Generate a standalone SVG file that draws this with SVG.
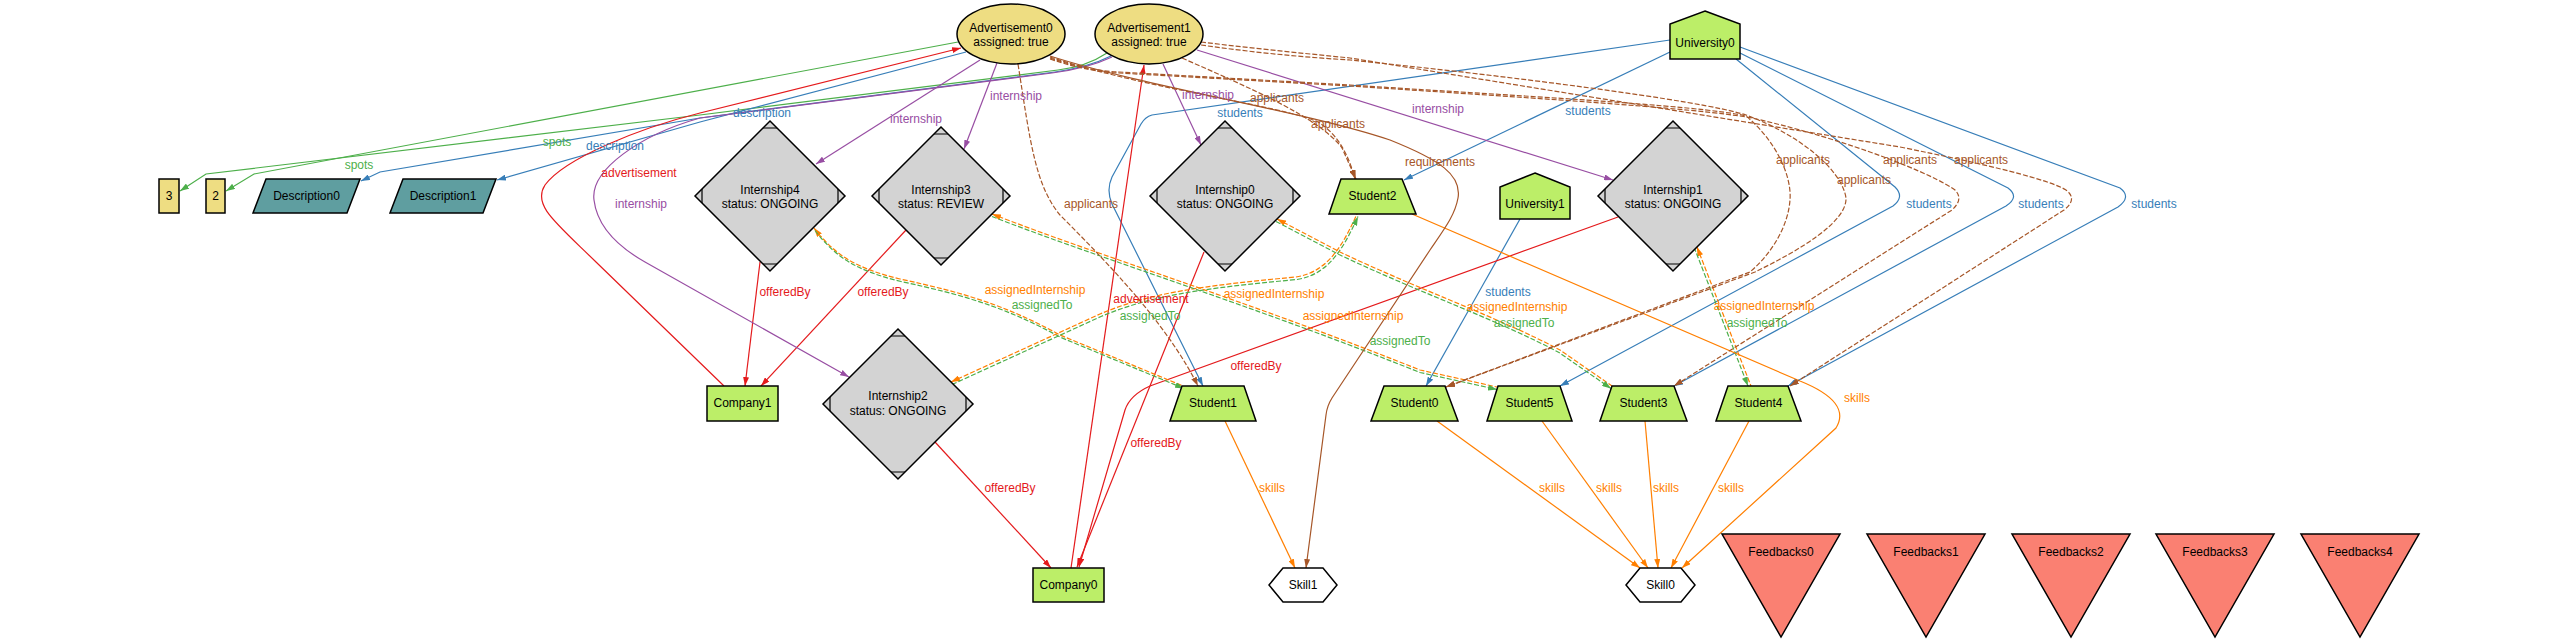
<svg xmlns="http://www.w3.org/2000/svg" width="2550" height="641" viewBox="0 0 2550 641">
<style>
.n{stroke:#000;stroke-width:1.5}
.yel{fill:#eedd82}.grn{fill:#bcee68}.gry{fill:#d3d3d3}.tea{fill:#5f9ea0}.wht{fill:#fff}.sal{fill:#fa8072}
.t{font-family:"Liberation Sans",Arial,sans-serif;font-size:12px;text-anchor:middle;fill:#000}
.l{font-family:"Liberation Sans",Arial,sans-serif;font-size:12px;text-anchor:middle}
.e{fill:none;stroke-width:1.2}
.d{stroke-dasharray:5,2}
.cg{stroke:#4daf4a}.cb{stroke:#377eb8}.cr{stroke:#e41a1c}.cp{stroke:#984ea3}.co{stroke:#ff7f00}.cn{stroke:#a65628}
.fg{fill:#4daf4a}.fb{fill:#377eb8}.fr{fill:#e41a1c}.fp{fill:#984ea3}.fo{fill:#ff7f00}.fn{fill:#a65628}
.md{fill:none;stroke:#000;stroke-width:1.2}
</style>
<defs>
<marker id="ag" viewBox="0 0 9 6" refX="9" refY="3" markerWidth="9" markerHeight="6" markerUnits="userSpaceOnUse" orient="auto-start-reverse"><path d="M0,0L9,3L0,6z" fill="#4daf4a"/></marker>
<marker id="ab" viewBox="0 0 9 6" refX="9" refY="3" markerWidth="9" markerHeight="6" markerUnits="userSpaceOnUse" orient="auto-start-reverse"><path d="M0,0L9,3L0,6z" fill="#377eb8"/></marker>
<marker id="ar" viewBox="0 0 9 6" refX="9" refY="3" markerWidth="9" markerHeight="6" markerUnits="userSpaceOnUse" orient="auto-start-reverse"><path d="M0,0L9,3L0,6z" fill="#e41a1c"/></marker>
<marker id="ap" viewBox="0 0 9 6" refX="9" refY="3" markerWidth="9" markerHeight="6" markerUnits="userSpaceOnUse" orient="auto-start-reverse"><path d="M0,0L9,3L0,6z" fill="#984ea3"/></marker>
<marker id="ao" viewBox="0 0 9 6" refX="9" refY="3" markerWidth="9" markerHeight="6" markerUnits="userSpaceOnUse" orient="auto-start-reverse"><path d="M0,0L9,3L0,6z" fill="#ff7f00"/></marker>
<marker id="an" viewBox="0 0 9 6" refX="9" refY="3" markerWidth="9" markerHeight="6" markerUnits="userSpaceOnUse" orient="auto-start-reverse"><path d="M0,0L9,3L0,6z" fill="#a65628"/></marker>
</defs>
<rect width="2550" height="641" fill="#fff"/>
<g id="connectors">
<!-- spots -->
<path class="e cg" marker-end="url(#ag)" d="M958,42 L254,174 L226,191"/>
<path class="e cg" marker-end="url(#ag)" d="M1107,53 C1092,63 1075,68 1058,70 L700,115 L206,174 L180,191"/>
<!-- description -->
<path class="e cb" marker-end="url(#ab)" d="M966,52 L700,122 L497,180"/>
<path class="e cb" marker-end="url(#ab)" d="M1111,56 C1093,65 1075,69 1055,72 L700,118 L380,172 L361,181"/>
<!-- students -->
<path class="e cb" marker-end="url(#ab)" d="M1670,40 L1152,115 Q1145,117 1141,124 L1112,177 Q1106,190 1112,204 L1203,386"/>
<path class="e cb" marker-end="url(#ab)" d="M1670,52 L1404,180"/>
<path class="e cb" marker-end="url(#ab)" d="M1736,59 L1895,187 Q1905,197 1893,206 L1560,386"/>
<path class="e cb" marker-end="url(#ab)" d="M1740,53 L2008,188 Q2020,197 2006,206 L1674,386"/>
<path class="e cb" marker-end="url(#ab)" d="M1740,47 L2120,188 Q2132,197 2118,207 L1788,386"/>
<path class="e cb" marker-end="url(#ab)" d="M1520,219 L1426,386"/>
<!-- advertisement / offeredBy -->
<path class="e cr" marker-end="url(#ar)" d="M724,386 L596,262 C555,222 532,205 545,185 C565,158 640,128 700,113 L961,48"/>
<path class="e cr" marker-end="url(#ar)" d="M1071,568 L1144,65"/>
<path class="e cr" marker-end="url(#ar)" d="M760,262 L745,386"/>
<path class="e cr" marker-end="url(#ar)" d="M906,230 L761,386"/>
<path class="e cr" marker-end="url(#ar)" d="M935,442 L1051,568"/>
<path class="e cr" marker-end="url(#ar)" d="M1204,252 L1077,567"/>
<path class="e cr" marker-end="url(#ar)" d="M1618,217 L1150,386 Q1130,395 1125,410 L1079,567"/>
<!-- internship -->
<path class="e cp" marker-end="url(#ap)" d="M980,60 L816,164"/>
<path class="e cp" marker-end="url(#ap)" d="M997,63 L964,149"/>
<path class="e cp" marker-end="url(#ap)" d="M1163,64 L1201,145"/>
<path class="e cp" marker-end="url(#ap)" d="M1197,50 L1613,180"/>
<path class="e cp" marker-end="url(#ap)" d="M1112,57 C1093,66 1075,70 1052,73 L700,118 C640,135 590,170 594,200 C597,225 615,245 645,262 L849,377"/>
<!-- assignedInternship (orange, to internship) / assignedTo (green, to student) -->
<path class="e co d" marker-start="url(#ao)" d="M814,228 C835,255 855,268 900,279 C965,293 1005,305 1060,335 L1183,386"/>
<path class="e cg d" marker-end="url(#ag)" transform="translate(1,2.5)" d="M814,228 C835,255 855,268 900,279 C965,293 1005,305 1060,335 L1183,386"/>
<path class="e co d" marker-start="url(#ao)" d="M951,382 L1100,314 C1150,293 1200,286 1296,277 C1330,272 1345,240 1357,214"/>
<path class="e cg d" marker-end="url(#ag)" transform="translate(1,2.5)" d="M951,382 L1100,314 C1150,293 1200,286 1296,277 C1330,272 1345,240 1357,214"/>
<path class="e co d" marker-start="url(#ao)" d="M992,214 C1100,256 1250,302 1420,370 L1497,387"/>
<path class="e cg d" marker-end="url(#ag)" transform="translate(0,2.5)" d="M992,214 C1100,256 1250,302 1420,370 L1497,387"/>
<path class="e co d" marker-start="url(#ao)" d="M1277,219 L1340,252 C1420,290 1500,318 1560,350 L1612,386"/>
<path class="e cg d" marker-end="url(#ag)" transform="translate(-1,2.5)" d="M1277,219 L1340,252 C1420,290 1500,318 1560,350 L1612,386"/>
<path class="e co d" marker-start="url(#ao)" d="M1697,247 L1751,386"/>
<path class="e cg d" marker-end="url(#ag)" transform="translate(-3,0)" d="M1697,247 L1751,386"/>
<!-- skills -->
<path class="e co" marker-end="url(#ao)" d="M1225,421 L1295,568"/>
<path class="e co" marker-end="url(#ao)" d="M1437,421 L1640,568"/>
<path class="e co" marker-end="url(#ao)" d="M1542,421 L1648,568"/>
<path class="e co" marker-end="url(#ao)" d="M1645,421 L1658,568"/>
<path class="e co" marker-end="url(#ao)" d="M1749,421 L1671,568"/>
<path class="e co" marker-end="url(#ao)" d="M1412,214 L1800,381 Q1852,402 1836,428 L1682,568"/>
<!-- requirements -->
<path class="e cn" marker-end="url(#an)" d="M1050,56 C1150,88 1300,110 1390,140 C1440,160 1462,175 1458,198 C1455,215 1445,228 1430,250 L1332,398 Q1327,406 1326,415 L1306,568"/>
<!-- applicants -->
<path class="e cn d" marker-end="url(#an)" d="M1018,64 C1030,140 1035,185 1060,215 C1120,275 1170,330 1198,386"/>
<path class="e cn d" marker-end="url(#an)" d="M1050,57 C1150,90 1280,105 1318,122 C1340,135 1350,160 1355,179"/>
<path class="e cn d" marker-end="url(#an)" d="M1182,58 C1250,88 1320,118 1342,148 L1356,179"/>
<path class="e cn d" marker-end="url(#an)" d="M1050,58 C1080,68 1100,71 1119,72 L1350,85 C1500,95 1700,105 1746,116 C1775,140 1792,175 1790,200 C1788,228 1770,255 1750,272 L1446,387"/>
<path class="e cn d" marker-end="url(#an)" d="M1050,59 C1080,69 1100,72 1119,73 L1350,86 C1500,96 1700,108 1752,118 C1850,140 1935,175 1955,190 Q1964,199 1952,210 L1674,386"/>
<path class="e cn d" marker-end="url(#an)" d="M1201,45 C1250,52 1300,57 1350,60 C1500,75 1700,100 1746,115 C1800,135 1842,170 1846,198 C1847,222 1800,250 1755,272 L1446,387"/>
<path class="e cn d" marker-end="url(#an)" d="M1201,42 C1250,48 1300,53 1350,58 L1900,147 C1990,165 2050,180 2066,190 Q2078,199 2064,210 L1790,386"/>
<!-- edge labels -->
<g class="l">
<text class="fg" x="557" y="146">spots</text>
<text class="fg" x="359" y="169">spots</text>
<text class="fb" x="762" y="117">description</text>
<text class="fb" x="615" y="150">description</text>
<text class="fr" x="639" y="177">advertisement</text>
<text class="fp" x="641" y="208">internship</text>
<text class="fp" x="916" y="123">internship</text>
<text class="fp" x="1016" y="100">internship</text>
<text class="fp" x="1208" y="99">internship</text>
<text class="fp" x="1438" y="113">internship</text>
<text class="fr" x="785" y="296">offeredBy</text>
<text class="fr" x="883" y="296">offeredBy</text>
<text class="fr" x="1010" y="492">offeredBy</text>
<text class="fr" x="1156" y="447">offeredBy</text>
<text class="fr" x="1256" y="370">offeredBy</text>
<text class="fr" x="1151" y="303">advertisement</text>
<text class="fo" x="1035" y="294">assignedInternship</text>
<text class="fg" x="1042" y="309">assignedTo</text>
<text class="fo" x="1274" y="298">assignedInternship</text>
<text class="fg" x="1150" y="320">assignedTo</text>
<text class="fo" x="1353" y="320">assignedInternship</text>
<text class="fg" x="1400" y="345">assignedTo</text>
<text class="fo" x="1517" y="311">assignedInternship</text>
<text class="fg" x="1524" y="327">assignedTo</text>
<text class="fo" x="1764" y="310">assignedInternship</text>
<text class="fg" x="1757" y="327">assignedTo</text>
<text class="fb" x="1240" y="117">students</text>
<text class="fb" x="1588" y="115">students</text>
<text class="fb" x="1508" y="296">students</text>
<text class="fb" x="1929" y="208">students</text>
<text class="fb" x="2041" y="208">students</text>
<text class="fb" x="2154" y="208">students</text>
<text class="fn" x="1091" y="208">applicants</text>
<text class="fn" x="1277" y="102">applicants</text>
<text class="fn" x="1338" y="128">applicants</text>
<text class="fn" x="1803" y="164">applicants</text>
<text class="fn" x="1864" y="184">applicants</text>
<text class="fn" x="1910" y="164">applicants</text>
<text class="fn" x="1981" y="164">applicants</text>
<text class="fn" x="1440" y="166">requirements</text>
<text class="fo" x="1272" y="492">skills</text>
<text class="fo" x="1552" y="492">skills</text>
<text class="fo" x="1609" y="492">skills</text>
<text class="fo" x="1666" y="492">skills</text>
<text class="fo" x="1731" y="492">skills</text>
<text class="fo" x="1857" y="402">skills</text>
</g>
</g>
<g id="n3"><rect class="n yel" x="159" y="179" width="20" height="34"/><text class="t" x="169" y="200">3</text></g>
<g id="n2"><rect class="n yel" x="206" y="179" width="19" height="34"/><text class="t" x="215.5" y="200">2</text></g>
<g id="Description0"><polygon class="n tea" points="266,179 360,179 347,213 253,213"/><text class="t" x="306.5" y="200">Description0</text></g>
<g id="Description1"><polygon class="n tea" points="403,179 496,179 483,213 390,213"/><text class="t" x="443" y="200">Description1</text></g>
<g id="Advertisement0"><ellipse class="n yel" cx="1011" cy="34" rx="54" ry="30"/><text class="t" x="1011" y="32">Advertisement0</text><text class="t" x="1011" y="46">assigned: true</text></g>
<g id="Advertisement1"><ellipse class="n yel" cx="1149" cy="34" rx="54" ry="30"/><text class="t" x="1149" y="32">Advertisement1</text><text class="t" x="1149" y="46">assigned: true</text></g>
<g id="University0"><polygon class="n grn" points="1705,11 1740,24 1740,59 1670,59 1670,24"/><text class="t" x="1705" y="47">University0</text></g>
<g id="University1"><polygon class="n grn" points="1535,173 1570,187 1570,219 1500,219 1500,187"/><text class="t" x="1535" y="208">University1</text></g>
<g id="Internship4"><polygon class="n gry" points="770,121 845,196 770,271 695,196"/><path class="md" d="M763,128H777M763,264H777M702,189V203M838,189V203"/><text class="t" x="770" y="194">Internship4</text><text class="t" x="770" y="208">status: ONGOING</text></g>
<g id="Internship3"><polygon class="n gry" points="941,127 1010,196 941,265 872,196"/><path class="md" d="M934,134H948M934,258H948M879,189V203M1003,189V203"/><text class="t" x="941" y="194">Internship3</text><text class="t" x="941" y="208">status: REVIEW</text></g>
<g id="Internship0"><polygon class="n gry" points="1225,121 1300,196 1225,271 1150,196"/><path class="md" d="M1218,128H1232M1218,264H1232M1157,189V203M1293,189V203"/><text class="t" x="1225" y="194">Internship0</text><text class="t" x="1225" y="208">status: ONGOING</text></g>
<g id="Internship1"><polygon class="n gry" points="1673,121 1748,196 1673,271 1598,196"/><path class="md" d="M1666,128H1680M1666,264H1680M1605,189V203M1741,189V203"/><text class="t" x="1673" y="194">Internship1</text><text class="t" x="1673" y="208">status: ONGOING</text></g>
<g id="Internship2"><polygon class="n gry" points="898,329 973,404 898,479 823,404"/><path class="md" d="M891,336H905M891,472H905M830,397V411M966,397V411"/><text class="t" x="898" y="400">Internship2</text><text class="t" x="898" y="415">status: ONGOING</text></g>
<g id="Student2"><polygon class="n grn" points="1341,179 1402,179 1416,214 1329,214"/><text class="t" x="1372.5" y="200">Student2</text></g>
<g id="Student1"><polygon class="n grn" points="1182,386 1244,386 1256,421 1170,421"/><text class="t" x="1213" y="407">Student1</text></g>
<g id="Student0"><polygon class="n grn" points="1384,386 1445,386 1458,421 1371,421"/><text class="t" x="1414.5" y="407">Student0</text></g>
<g id="Student5"><polygon class="n grn" points="1498,386 1560,386 1572,421 1487,421"/><text class="t" x="1529.5" y="407">Student5</text></g>
<g id="Student3"><polygon class="n grn" points="1612,386 1674,386 1687,421 1600,421"/><text class="t" x="1643.5" y="407">Student3</text></g>
<g id="Student4"><polygon class="n grn" points="1728,386 1788,386 1801,421 1716,421"/><text class="t" x="1758.5" y="407">Student4</text></g>
<g id="Company1"><rect class="n grn" x="707" y="386" width="71" height="35"/><text class="t" x="742.5" y="407">Company1</text></g>
<g id="Company0"><rect class="n grn" x="1033" y="568" width="71" height="34"/><text class="t" x="1068.5" y="589">Company0</text></g>
<g id="Skill1"><polygon class="n wht" points="1269,585 1283,568 1323,568 1337,585 1323,602 1283,602"/><text class="t" x="1303" y="589">Skill1</text></g>
<g id="Skill0"><polygon class="n wht" points="1626,585 1640,568 1681,568 1695,585 1681,602 1640,602"/><text class="t" x="1660.5" y="589">Skill0</text></g>
<g id="Feedbacks0"><polygon class="n sal" points="1722,534 1840,534 1781,637"/><text class="t" x="1781" y="556">Feedbacks0</text></g>
<g id="Feedbacks1"><polygon class="n sal" points="1867,534 1985,534 1926,637"/><text class="t" x="1926" y="556">Feedbacks1</text></g>
<g id="Feedbacks2"><polygon class="n sal" points="2012,534 2130,534 2071,637"/><text class="t" x="2071" y="556">Feedbacks2</text></g>
<g id="Feedbacks3"><polygon class="n sal" points="2156,534 2274,534 2215,637"/><text class="t" x="2215" y="556">Feedbacks3</text></g>
<g id="Feedbacks4"><polygon class="n sal" points="2301,534 2419,534 2360,637"/><text class="t" x="2360" y="556">Feedbacks4</text></g>
</svg>
